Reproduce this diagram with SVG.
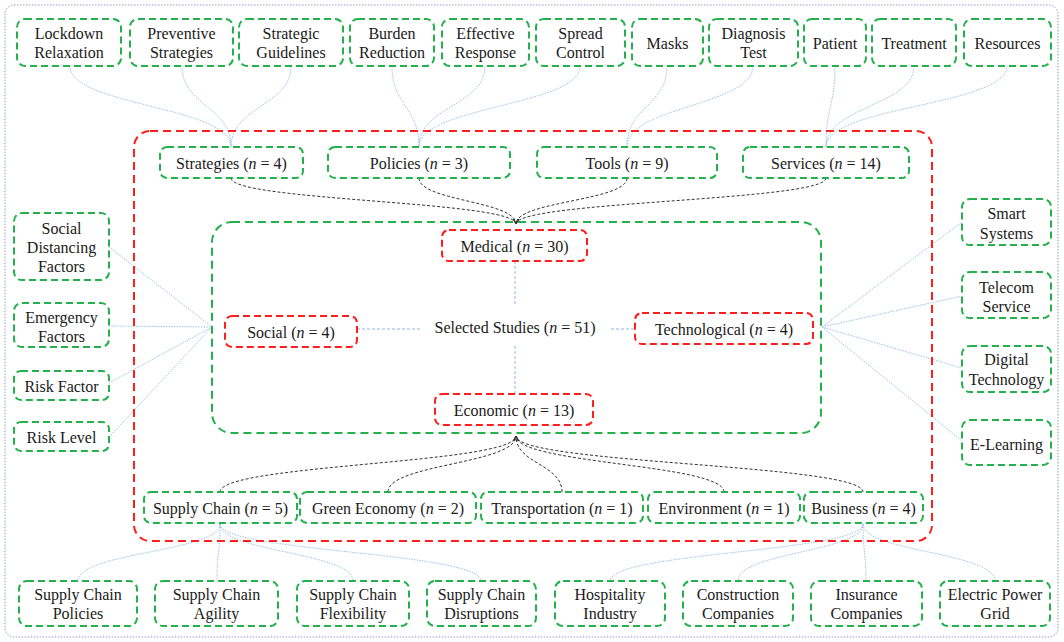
<svg xmlns="http://www.w3.org/2000/svg" width="1064" height="642" viewBox="0 0 1064 642">
<style>
.bg{fill:#ffffff}
.frame{fill:none;stroke:#8a9cbc;stroke-width:1;stroke-dasharray:1.5 1.5}
.g{fill:#ffffff;stroke:#22b14c;stroke-width:2;stroke-dasharray:7 4}
.r{fill:#ffffff;stroke:#ff1e1e;stroke-width:2;stroke-dasharray:7 4}
.rg{fill:none;stroke:#ff1e1e;stroke-width:2;stroke-dasharray:8 5}
.gg{fill:none;stroke:#22b14c;stroke-width:2;stroke-dasharray:8 5}
.t{font-family:"Liberation Serif","Times New Roman",serif;font-size:16px;fill:#1a1a1a;text-anchor:middle;dominant-baseline:central}
.lb{fill:none;stroke:#9dc3e6;stroke-width:1;stroke-dasharray:1.5 1.2}
.lbd{fill:none;stroke:#8fb4de;stroke-width:1;stroke-dasharray:3 2}
.dk{fill:none;stroke:#333333;stroke-width:1;stroke-dasharray:3 2}
</style>
<defs>
<marker id="ah" markerWidth="6" markerHeight="6" refX="5" refY="3" orient="auto" markerUnits="userSpaceOnUse">
<path d="M0,0.5 L5,3 L0,5.5" fill="none" stroke="#333333" stroke-width="0.8"/>
</marker>
</defs>
<rect class="bg" x="0" y="0" width="1064" height="642"/>
<rect class="frame" x="5" y="5" width="1053" height="632" rx="9"/>

<g id="connectors">
<!-- top light blue -->
<path class="lb" d="M70 66 C70 106,231 106,231 147"/>
<path class="lb" d="M182 66 C182 106,231 106,231 147"/>
<path class="lb" d="M291 66 C291 106,231 106,231 147"/>
<path class="lb" d="M392 66 C392 106,419 106,419 147"/>
<path class="lb" d="M485 66 C485 106,419 106,419 147"/>
<path class="lb" d="M580 66 C580 106,419 106,419 147"/>
<path class="lb" d="M667 66 C667 106,627 106,627 147"/>
<path class="lb" d="M753 66 C753 106,627 106,627 147"/>
<path class="lb" d="M835 66 C835 106,826 106,826 147"/>
<path class="lb" d="M914 66 C914 106,826 106,826 147"/>
<path class="lb" d="M1007 66 C1007 106,826 106,826 147"/>
<!-- top dark -->
<path class="dk" d="M231 178 C231 201,516 201,516 224" marker-end="url(#ah)"/>
<path class="dk" d="M419 178 C419 201,516 201,516 224" marker-end="url(#ah)"/>
<path class="dk" d="M627 178 C627 201,516 201,516 224" marker-end="url(#ah)"/>
<path class="dk" d="M826 178 C826 201,516 201,516 224" marker-end="url(#ah)"/>
<!-- centre -->
<path class="lbd" d="M515 261 L515 306"/>
<path class="lbd" d="M515 346 L515 394"/>
<path class="lbd" d="M357 329 L420 329"/>
<path class="lbd" d="M611 329 L635 329"/>
<!-- left -->
<path class="lb" d="M109 247 L212 327"/>
<path class="lb" d="M109 326 L212 327"/>
<path class="lb" d="M109 383 L212 327"/>
<path class="lb" d="M109 437 L212 327"/>
<!-- right -->
<path class="lb" d="M822 327 L962 222"/>
<path class="lb" d="M822 327 L962 296"/>
<path class="lb" d="M822 327 L962 368"/>
<path class="lb" d="M822 327 L962 441"/>
<!-- bottom dark -->
<path class="dk" d="M220 492 C220 464,516 464,516 436" marker-end="url(#ah)"/>
<path class="dk" d="M388 492 C388 464,516 464,516 436" marker-end="url(#ah)"/>
<path class="dk" d="M562 492 C562 464,516 464,516 436" marker-end="url(#ah)"/>
<path class="dk" d="M724 492 C724 464,516 464,516 436" marker-end="url(#ah)"/>
<path class="dk" d="M863 492 C863 464,516 464,516 436" marker-end="url(#ah)"/>
<!-- bottom light blue -->
<path class="lb" d="M220 524 C220 552,78 552,78 581"/>
<path class="lb" d="M220 524 C220 552,217 552,217 581"/>
<path class="lb" d="M220 524 C220 552,353 552,353 581"/>
<path class="lb" d="M220 524 C220 552,481 552,481 581"/>
<path class="lb" d="M863 524 C863 552,610 552,610 581"/>
<path class="lb" d="M863 524 C863 552,738 552,738 581"/>
<path class="lb" d="M863 524 C863 552,866 552,866 581"/>
<path class="lb" d="M863 524 C863 552,995 552,995 581"/>
</g>

<g id="group-red"><rect class="rg" x="134" y="131" width="798" height="410" rx="16"/></g>
<g id="group-inner"><rect class="gg" x="212" y="222" width="609" height="211" rx="20"/></g>

<!-- top row -->
<g id="lockdown"><rect class="g" x="17" y="19" width="104" height="47" rx="8"/><text class="t" x="69" y="33">Lockdown</text><text class="t" x="69" y="52">Relaxation</text></g>
<g id="preventive"><rect class="g" x="130" y="19" width="103" height="47" rx="8"/><text class="t" x="181.5" y="33">Preventive</text><text class="t" x="181.5" y="52">Strategies</text></g>
<g id="strategic"><rect class="g" x="239" y="19" width="104" height="47" rx="8"/><text class="t" x="291" y="33">Strategic</text><text class="t" x="291" y="52">Guidelines</text></g>
<g id="burden"><rect class="g" x="350" y="19" width="84" height="47" rx="8"/><text class="t" x="392" y="33">Burden</text><text class="t" x="392" y="52">Reduction</text></g>
<g id="effective"><rect class="g" x="442" y="19" width="87" height="47" rx="8"/><text class="t" x="485.5" y="33">Effective</text><text class="t" x="485.5" y="52">Response</text></g>
<g id="spread"><rect class="g" x="536" y="19" width="89" height="47" rx="8"/><text class="t" x="580.5" y="33">Spread</text><text class="t" x="580.5" y="52">Control</text></g>
<g id="masks"><rect class="g" x="632" y="19" width="71" height="47" rx="8"/><text class="t" x="667.5" y="43">Masks</text></g>
<g id="diagnosis"><rect class="g" x="709" y="19" width="89" height="47" rx="8"/><text class="t" x="753.5" y="33">Diagnosis</text><text class="t" x="753.5" y="52">Test</text></g>
<g id="patient"><rect class="g" x="804" y="19" width="62" height="47" rx="8"/><text class="t" x="835" y="43">Patient</text></g>
<g id="treatment"><rect class="g" x="872" y="19" width="84" height="47" rx="8"/><text class="t" x="914" y="43">Treatment</text></g>
<g id="resources"><rect class="g" x="964" y="19" width="87" height="47" rx="8"/><text class="t" x="1007.5" y="43">Resources</text></g>

<!-- second row -->
<g id="strategies"><rect class="g" x="160" y="147" width="143" height="31" rx="7"/><text class="t" x="231.5" y="163">Strategies (<tspan font-style="italic">n</tspan> = 4)</text></g>
<g id="policies"><rect class="g" x="328" y="147" width="182" height="31" rx="7"/><text class="t" x="419" y="163">Policies (<tspan font-style="italic">n</tspan> = 3)</text></g>
<g id="tools"><rect class="g" x="537" y="147" width="180" height="31" rx="7"/><text class="t" x="627" y="163">Tools (<tspan font-style="italic">n</tspan> = 9)</text></g>
<g id="services"><rect class="g" x="743" y="147" width="166" height="31" rx="7"/><text class="t" x="826" y="163">Services (<tspan font-style="italic">n</tspan> = 14)</text></g>

<!-- centre -->
<g id="medical"><rect class="r" x="442" y="230" width="145" height="31" rx="7"/><text class="t" x="514.5" y="246">Medical (<tspan font-style="italic">n</tspan> = 30)</text></g>
<g id="social"><rect class="r" x="225" y="316" width="132" height="31" rx="7"/><text class="t" x="291" y="332">Social (<tspan font-style="italic">n</tspan> = 4)</text></g>
<g id="selected"><text class="t" x="515" y="327">Selected Studies (<tspan font-style="italic">n</tspan> = 51)</text></g>
<g id="technological"><rect class="r" x="635" y="313" width="178" height="31" rx="7"/><text class="t" x="724" y="329">Technological (<tspan font-style="italic">n</tspan> = 4)</text></g>
<g id="economic"><rect class="r" x="435" y="394" width="158" height="31" rx="7"/><text class="t" x="514" y="410">Economic (<tspan font-style="italic">n</tspan> = 13)</text></g>

<!-- left -->
<g id="socialdist"><rect class="g" x="14" y="213" width="95" height="67" rx="8"/><text class="t" x="61.5" y="228">Social</text><text class="t" x="61.5" y="247">Distancing</text><text class="t" x="61.5" y="266">Factors</text></g>
<g id="emergency"><rect class="g" x="14" y="303" width="95" height="44" rx="8"/><text class="t" x="61.5" y="317">Emergency</text><text class="t" x="61.5" y="336">Factors</text></g>
<g id="riskfactor"><rect class="g" x="14" y="371" width="95" height="29" rx="7"/><text class="t" x="61.5" y="386">Risk Factor</text></g>
<g id="risklevel"><rect class="g" x="14" y="422" width="95" height="29" rx="7"/><text class="t" x="61.5" y="437">Risk Level</text></g>

<!-- right -->
<g id="smart"><rect class="g" x="962" y="199" width="89" height="46" rx="8"/><text class="t" x="1006.5" y="213">Smart</text><text class="t" x="1006.5" y="233">Systems</text></g>
<g id="telecom"><rect class="g" x="962" y="272" width="89" height="46" rx="8"/><text class="t" x="1006.5" y="287">Telecom</text><text class="t" x="1006.5" y="306">Service</text></g>
<g id="digital"><rect class="g" x="962" y="346" width="89" height="46" rx="8"/><text class="t" x="1006.5" y="359">Digital</text><text class="t" x="1006.5" y="379">Technology</text></g>
<g id="elearning"><rect class="g" x="962" y="420" width="89" height="45" rx="8"/><text class="t" x="1006.5" y="444">E-Learning</text></g>

<!-- economic children -->
<g id="supplychain"><rect class="g" x="144" y="492" width="153" height="31" rx="7"/><text class="t" x="220.5" y="508">Supply Chain (<tspan font-style="italic">n</tspan> = 5)</text></g>
<g id="greeneconomy"><rect class="g" x="300" y="492" width="176" height="31" rx="7"/><text class="t" x="388" y="508">Green Economy (<tspan font-style="italic">n</tspan> = 2)</text></g>
<g id="transportation"><rect class="g" x="481" y="492" width="162" height="31" rx="7"/><text class="t" x="562" y="508">Transportation (<tspan font-style="italic">n</tspan> = 1)</text></g>
<g id="environment"><rect class="g" x="648" y="492" width="152" height="31" rx="7"/><text class="t" x="724" y="508">Environment (<tspan font-style="italic">n</tspan> = 1)</text></g>
<g id="business"><rect class="g" x="804" y="492" width="119" height="31" rx="7"/><text class="t" x="863.5" y="508">Business (<tspan font-style="italic">n</tspan> = 4)</text></g>

<!-- bottom row -->
<g id="scpolicies"><rect class="g" x="19" y="581" width="118" height="45" rx="8"/><text class="t" x="78" y="594">Supply Chain</text><text class="t" x="78" y="613">Policies</text></g>
<g id="scagility"><rect class="g" x="155" y="581" width="123" height="45" rx="8"/><text class="t" x="216.5" y="594">Supply Chain</text><text class="t" x="216.5" y="613">Agility</text></g>
<g id="scflex"><rect class="g" x="297" y="581" width="112" height="45" rx="8"/><text class="t" x="353" y="594">Supply Chain</text><text class="t" x="353" y="613">Flexibility</text></g>
<g id="scdisrupt"><rect class="g" x="427" y="581" width="109" height="45" rx="8"/><text class="t" x="481.5" y="594">Supply Chain</text><text class="t" x="481.5" y="613">Disruptions</text></g>
<g id="hospitality"><rect class="g" x="555" y="581" width="110" height="45" rx="8"/><text class="t" x="610" y="594">Hospitality</text><text class="t" x="610" y="613">Industry</text></g>
<g id="construction"><rect class="g" x="683" y="581" width="110" height="45" rx="8"/><text class="t" x="738" y="594">Construction</text><text class="t" x="738" y="613">Companies</text></g>
<g id="insurance"><rect class="g" x="811" y="581" width="111" height="45" rx="8"/><text class="t" x="866.5" y="594">Insurance</text><text class="t" x="866.5" y="613">Companies</text></g>
<g id="electric"><rect class="g" x="940" y="581" width="110" height="45" rx="8"/><text class="t" x="995" y="594">Electric Power</text><text class="t" x="995" y="613">Grid</text></g>
</svg>
